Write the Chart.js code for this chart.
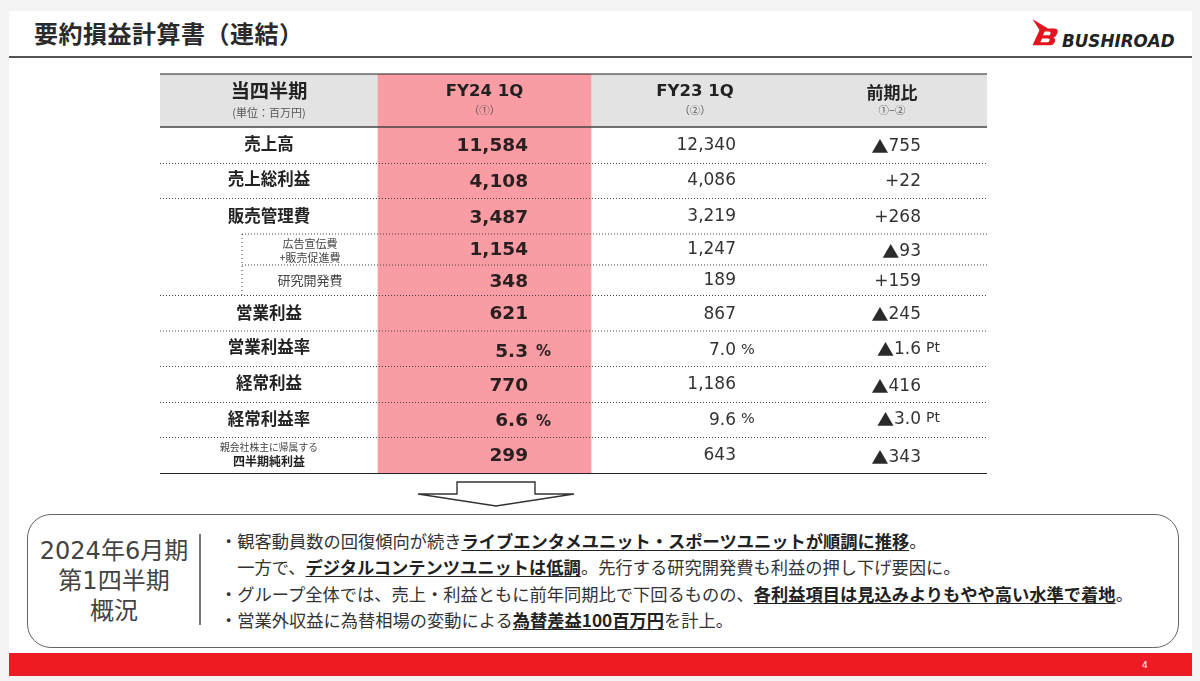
<!DOCTYPE html>
<html lang="ja">
<head>
<meta charset="utf-8">
<script src="https://cdn.jsdelivr.net/npm/chart.js@4/dist/chart.umd.min.js"></script>
<style>
html,body{margin:0;padding:0;width:1200px;height:681px;overflow:hidden;background:#f3f3f3;font-family:"Noto Sans CJK JP","Noto Sans",sans-serif;color:#333}
.abs{position:absolute;white-space:nowrap}
#slide{left:9px;top:11px;width:1183px;height:665px;background:#fff}
#rule{left:9px;top:56px;width:1183px;height:2px;background:#555}
#title{left:34px;top:15px;font-size:24px;line-height:36px;font-weight:700;color:#2a2a2a;letter-spacing:.5px}
#brand{left:1062px;top:29.5px;font:italic 700 18px/22px "DejaVu Sans";color:#222;transform:scaleX(.93);transform-origin:left center}
#box{left:27px;top:514px;width:1150px;height:132px;border:1.5px solid #666;border-radius:24px;background:#fff;box-sizing:content-box}
#divider{left:199px;top:534px;width:1.5px;height:91px;background:#777}
.period{left:30px;width:168px;text-align:center;font-family:"DejaVu Sans","Noto Sans CJK JP";font-size:24px;line-height:30px;color:#444}
.note{left:220px;font-size:17.25px;line-height:26px;color:#333}
.note b{font-weight:700;text-decoration:underline;color:#222;text-underline-offset:2px}
#bar{left:9px;top:653px;width:1183px;height:23px;background:#ed1c24}
#page{left:1142px;top:658px;font:9px/14px "DejaVu Sans";color:#fff}
#wrap{left:156px;top:70px;width:835px;height:408px}
</style>
</head>
<body>
<div class="abs" id="slide"></div>
<div class="abs" id="rule"></div>
<div class="abs" id="title">要約損益計算書（連結）</div>
<svg class="abs" style="left:1030.400px;top:16.700px" width="29.3" height="30.6" viewBox="0 0 34 40" preserveAspectRatio="none">
<path fill="#e3141e" fill-rule="evenodd" d="M3 3 L21 15 L28 15 Q33 15 32 20 L31 23 Q30 26 27 27 Q30 28 29 32 L28 34 Q27 37 23 37 L3 37 L11 17 Z M17 19 L15 24 L23 24 L24 21 Q24 19 22 19 Z M14 28 L12 33 L20 33 Q22 33 22.500 31 L23 30 Q23 28 21 28 Z"/>
</svg>
<div class="abs" id="brand">BUSHIROAD</div>
<div class="abs" id="wrap"><canvas id="table" width="835" height="408"></canvas></div>
<svg class="abs" style="left:410px;top:476px" width="172" height="36" viewBox="0 0 172 36">
<path d="M47 6 L125 6 L125 18 L164 18 L86 30 L8 18 L47 18 Z" fill="#fff" stroke="#333" stroke-width="1.4"/>
</svg>
<div class="abs" id="box"></div>
<div class="abs period" style="top:536px">2024年6月期</div>
<div class="abs period" style="top:566px">第1四半期</div>
<div class="abs period" style="top:596px">概況</div>
<div class="abs" id="divider"></div>
<div class="abs note" style="top:528px">・観客動員数の回復傾向が続き<b>ライブエンタメユニット・スポーツユニットが順調に推移</b>。</div>
<div class="abs note" style="top:554px">　一方で、<b>デジタルコンテンツユニットは低調</b>。先行する研究開発費も利益の押し下げ要因に。</div>
<div class="abs note" style="top:581px">・グループ全体では、売上・利益ともに前年同期比で下回るものの、<b>各利益項目は見込みよりもやや高い水準で着地</b>。</div>
<div class="abs note" style="top:607px">・営業外収益に為替相場の変動による<b>為替差益100百万円</b>を計上。</div>
<div class="abs" id="bar"></div>
<div class="abs" id="page">4</div>
<script>
// ---- table content ----
const columnTitles = ['当四半期', 'FY24 1Q', 'FY23 1Q', '前期比'];
const columnNotes = ['(単位：百万円)', '（①）', '（②）', '①−②'];
const rowLabels = ['売上高', '売上総利益', '販売管理費', '広告宣伝費\n+販売促進費', '研究開発費', '営業利益', '営業利益率', '経常利益', '経常利益率', '親会社株主に帰属する\n四半期純利益'];
const fy24Values = [11584, 4108, 3487, 1154, 348, 621, 5.3, 770, 6.6, 299];
const fy23Values = [12340, 4086, 3219, 1247, 189, 867, 7.0, 1186, 9.6, 643];
const changeValues = [-755, 22, 268, -93, 159, -245, -1.6, -416, -3.0, -343];
const ratioRows = [6, 8];

// ---- layout (table units = canvas pixels) ----
const tableWidth = 827, tableHeight = 400;
const rowEdges = [0, 53, 89.5, 124.5, 160, 191, 221.5, 257, 292.5, 328.5, 363.5, 399.5];
const rowCentres = rowEdges.slice(1, -1).map((e, i) => (e + rowEdges[i + 2]) / 2);
const labelNudge = [-2, -2, -1, 1, 0, -1, -2, -1.500, -1.500, 0];
const fy24Nudge = [1, 1, 1.500, 1, 1.500, 1, 3, 1.500, 1.500, 1];
const fy23Nudge = [0, 0, 0, 0.500, 0, 1, 2, 0.500, 0.500, 0.500];
const changeNudge = [1, 1, 1, 2.500, 1, 1, 1, 2.500, -0.500, 2.500];
const subIndent = [3, 4];
const pinkLeft = 218, pinkWidth = 213;
const labelX = 109, subLabelX = 150, fy24Right = 368, fy23Right = 576, changeRight = 761;
const titleX = [109, 324.500, 535, 732];
const font = (w, s) => `${w} ${s}px "DejaVu Sans","Noto Sans CJK JP"`;
const jp = (w, s) => `${w} ${s}px "Noto Sans CJK JP"`;

const digits = (v, d) => Math.abs(v).toLocaleString('en-US', {minimumFractionDigits: d, maximumFractionDigits: d});

function rule(x0, x1, y, dash, color, width) {
  return {type: 'scatter', showLine: true, clip: false, pointRadius: 0, order: 1,
    data: [{x: x0, y: y}, {x: x1, y: y}], borderColor: color, borderWidth: width, borderDash: dash};
}
const dots = [1, 2];
const ruleSets = [
  rule(0, tableWidth, rowEdges[0], [], '#222', 1.1),
  rule(0, tableWidth, rowEdges[1], [], '#444', 1.4),
  rule(0, tableWidth, rowEdges[11], [], '#222', 1.2)
];
[2, 3, 6, 7, 8, 9, 10].forEach(i => ruleSets.push(rule(0, tableWidth, rowEdges[i], dots, '#444', 1)));
subIndent.forEach(i => ruleSets.push(rule(82, tableWidth, rowEdges[i + 1], dots, '#444', 1)));
ruleSets.push({type: 'scatter', showLine: true, clip: false, pointRadius: 0, order: 1,
  data: [{x: 82, y: rowEdges[4]}, {x: 82, y: rowEdges[6]}], borderColor: '#444', borderWidth: 1, borderDash: [1, 3]});

function column(values, x, nudge, opts) {
  return Object.assign({type: 'scatter', pointRadius: 0, order: 0, clip: false,
    data: values.map((v, i) => ({x: x, y: rowCentres[i] + nudge[i], v: v}))}, opts);
}

const cellPlugin = {
  id: 'cells',
  afterDatasetsDraw(chart) {
    const c = chart.ctx;
    c.save();
    c.textBaseline = 'middle';
    chart.data.datasets.forEach((ds, k) => {
      if (!ds.paint) return;
      const pts = chart.getDatasetMeta(k).data;
      ds.data.forEach((d, i) => ds.paint(c, pts[i].x, pts[i].y, d.v, i));
    });
    const xs = chart.scales.x, ys = chart.scales.y;
    columnTitles.forEach((t, i) => {
      const x = xs.getPixelForValue(titleX[i]);
      c.textAlign = 'center'; c.fillStyle = '#222';
      c.font = i === 0 ? jp(700, 19.2) : (i === 3 ? jp(700, 17) : font(700, 16.5));
      c.fillText(t, x, ys.getPixelForValue(i === 0 ? 17 : (i === 3 ? 19 : 18)));
      c.fillStyle = '#555';
      c.font = jp(400, i === 0 ? 11 : 10.5);
      c.fillText(columnNotes[i], x, ys.getPixelForValue(i === 0 ? 39 : 36));
    });
    c.restore();
  }
};

function paintLabel(c, x, y, v, i) {
  c.textAlign = 'center'; c.fillStyle = '#222';
  const sub = subIndent.includes(i);
  const parts = v.split('\n');
  if (parts.length === 2) {
    const last = i === rowLabels.length - 1;
    c.font = jp(400, last ? 9.8 : 11); c.fillStyle = '#444';
    c.fillText(parts[0], x + (sub ? 41 : 0), y + (last ? -8 : -6.500));
    c.font = last ? jp(700, 12) : jp(400, 11); c.fillStyle = last ? '#222' : '#444';
    c.fillText(parts[1], x + (sub ? 41 : 0), y + (last ? 6 : 7.500));
  } else if (sub) {
    c.font = jp(400, 13); c.fillStyle = '#444';
    c.fillText(v, x + 41, y);
  } else {
    c.font = jp(700, 16.500);
    c.fillText(v, x, y);
  }
}
const unitGap = {a: 8, b: 5};
function paintFy24(c, x, y, v, i) {
  const ratio = ratioRows.includes(i);
  c.textAlign = 'right'; c.fillStyle = '#2a2020'; c.font = font(700, 18.500);
  c.fillText(digits(v, ratio ? 1 : 0), x, y);
  if (ratio) { c.textAlign = 'left'; c.font = font(700, 15); c.fillText('%', x + unitGap.a, y + 0.500); }
}
function paintFy23(c, x, y, v, i) {
  const ratio = ratioRows.includes(i);
  c.textAlign = 'right'; c.fillStyle = '#333'; c.font = font(400, 17);
  c.fillText(digits(v, ratio ? 1 : 0), x, y);
  if (ratio) { c.textAlign = 'left'; c.font = font(400, 14.500); c.fillText('%', x + unitGap.b, y - 1); }
}
function paintChange(c, x, y, v, i) {
  const ratio = ratioRows.includes(i);
  c.textAlign = 'right'; c.fillStyle = '#333'; c.font = font(400, 17);
  const txt = digits(v, ratio ? 1 : 0);
  if (v < 0) {
    c.fillText(txt, x, y);
    const w = c.measureText(txt).width;
    c.font = jp(400, 17);
    c.fillStyle = '#2a2a2a';
    c.fillText('▲', x - w, y);
  } else {
    c.fillText('+' + txt, x, y);
  }
  if (ratio) { c.textAlign = 'left'; c.font = font(400, 14); c.fillStyle = '#333'; c.fillText('Pt', x + unitGap.b, y - 1); }
}

new Chart(document.getElementById('table'), {
  type: 'scatter',
  data: {datasets: [
    {type: 'bar', grouped: false, order: 3, barThickness: tableWidth, backgroundColor: '#e3e3e3',
      data: [{x: tableWidth / 2, y: [rowEdges[0], rowEdges[1]]}]},
    {type: 'bar', grouped: false, order: 2, barThickness: pinkWidth, backgroundColor: '#f99ca4',
      data: [{x: pinkLeft + pinkWidth / 2, y: [rowEdges[0], rowEdges[11]]}]},
    ...ruleSets,
    column(rowLabels, labelX, labelNudge, {paint: paintLabel}),
    column(fy24Values, fy24Right, fy24Nudge, {paint: paintFy24}),
    column(fy23Values, fy23Right, fy23Nudge, {paint: paintFy23}),
    column(changeValues, changeRight, changeNudge, {paint: paintChange})
  ]},
  options: {
    responsive: false, animation: false, events: [],
    layout: {padding: 4},
    plugins: {legend: {display: false}, tooltip: {enabled: false}, title: {display: false}},
    scales: {
      x: {type: 'linear', min: 0, max: tableWidth, offset: false, display: false},
      y: {type: 'linear', min: 0, max: tableHeight, reverse: true, display: false}
    }
  },
  plugins: [cellPlugin]
});
</script>
</body>
</html>
